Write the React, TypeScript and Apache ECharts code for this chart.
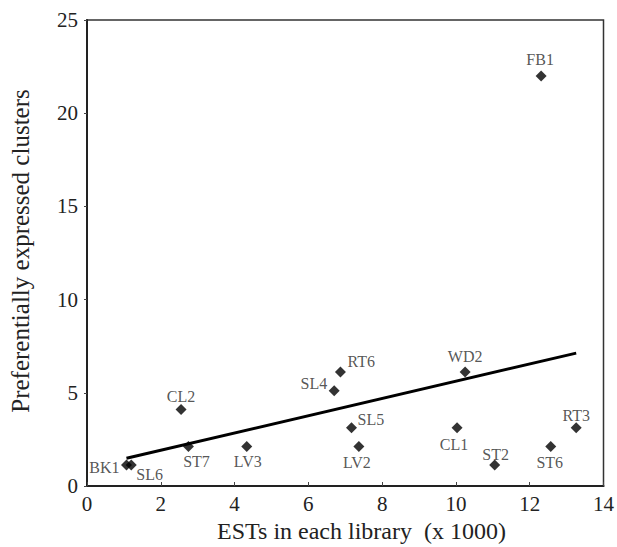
import React, { useEffect, useRef } from "react";
import * as echarts from "echarts";

const libraries = ["BK1", "SL6", "CL2", "ST7", "LV3", "SL4", "RT6", "SL5", "LV2", "WD2", "CL1", "ST2", "ST6", "RT3", "FB1"];
const estsThousands = [1.07, 1.2, 2.55, 2.75, 4.33, 6.7, 6.87, 7.17, 7.37, 10.25, 10.03, 11.05, 12.57, 13.26, 12.31];
const clusters = [1.12, 1.12, 4.1, 2.12, 2.12, 5.11, 6.11, 3.12, 2.12, 6.11, 3.12, 1.12, 2.12, 3.12, 22.0];
const trendX = [1.07, 13.26];
const trendY = [1.49, 7.13];
const xTicks = [0, 2, 4, 6, 8, 10, 12, 14];
const yTicks = [0, 5, 10, 15, 20, 25];
const xTitle = "ESTs in each library  (x 1000)";
const yTitle = "Preferentially expressed clusters";

const labelPlacement: Record<string, { align: string; offset: number[] }> = {
  BK1: { align: "right", offset: [-7, 2] },
  SL6: { align: "left", offset: [5, 9] },
  CL2: { align: "center", offset: [0, -13] },
  ST7: { align: "center", offset: [8, 15] },
  LV3: { align: "center", offset: [1, 15] },
  SL4: { align: "right", offset: [-7, -7] },
  RT6: { align: "left", offset: [7, -11] },
  SL5: { align: "left", offset: [6, -8] },
  LV2: { align: "center", offset: [-2, 16] },
  WD2: { align: "center", offset: [0, -15.5] },
  CL1: { align: "center", offset: [-3, 16.5] },
  ST2: { align: "center", offset: [1, -11] },
  ST6: { align: "center", offset: [-1, 16.5] },
  RT3: { align: "center", offset: [0, -12.5] },
  FB1: { align: "center", offset: [-1, -16] },
};

const FONT = "Liberation Serif, Tinos, Times New Roman, DejaVu Serif, serif";

export default function App() {
  const ref = useRef<HTMLDivElement>(null);
  useEffect(() => {
    if (!ref.current) return;
    const chart = echarts.init(ref.current, undefined, { renderer: "svg" });
    const points = libraries.map((name, i) => {
      const p = labelPlacement[name];
      return {
        name,
        value: [estsThousands[i], clusters[i]],
        label: {
          show: true,
          formatter: name,
          position: "inside",
          align: p.align,
          verticalAlign: "middle",
          offset: p.offset,
          fontFamily: FONT,
          fontSize: 16,
          color: "#2a2a2a",
        },
      };
    });
    chart.setOption({
      animation: false,
      backgroundColor: "#ffffff",
      textStyle: { fontFamily: FONT },
      grid: {
        left: 87,
        right: 10,
        top: 20,
        bottom: 61,
        show: true,
        borderColor: "#333",
        borderWidth: 1.5,
      },
      graphic: [
        {
          type: "text",
          x: 361.5,
          y: 531,
          style: {
            text: xTitle,
            fontFamily: FONT,
            fontSize: 24,
            fill: "#222",
            align: "center",
            verticalAlign: "middle",
          },
        },
        {
          type: "text",
          x: 20,
          y: 251,
          rotation: Math.PI / 2,
          style: {
            text: yTitle,
            fontFamily: FONT,
            fontSize: 25,
            fill: "#222",
            align: "center",
            verticalAlign: "middle",
          },
        },
      ],
      xAxis: {
        type: "value",
        min: xTicks[0],
        max: xTicks[xTicks.length - 1],
        interval: 2,
        axisLine: { lineStyle: { color: "#222", width: 2 } },
        axisTick: { inside: true, length: 4, lineStyle: { color: "#444" } },
        axisLabel: { fontFamily: FONT, fontSize: 21, color: "#222", margin: 7 },
        splitLine: { show: false },
      },
      yAxis: {
        type: "value",
        min: yTicks[0],
        max: yTicks[yTicks.length - 1],
        interval: 5,
        axisLine: { lineStyle: { color: "#222", width: 2 } },
        axisTick: { inside: false, length: 3, lineStyle: { color: "#444" } },
        axisLabel: { fontFamily: FONT, fontSize: 21, color: "#222", margin: 9 },
        splitLine: { show: false },
      },
      series: [
        {
          type: "line",
          data: trendX.map((x, i) => [x, trendY[i]]),
          showSymbol: false,
          symbol: "none",
          lineStyle: { color: "#000", width: 3 },
          silent: true,
          z: 2,
        },
        {
          type: "scatter",
          data: points,
          symbol: "diamond",
          symbolSize: 11,
          itemStyle: { color: "#000" },
          z: 3,
        },
      ],
    });
    return () => chart.dispose();
  }, []);
  return <div ref={ref} style={{ width: 617, height: 547, position: "absolute", left: 0, top: 0 }} />;
}
